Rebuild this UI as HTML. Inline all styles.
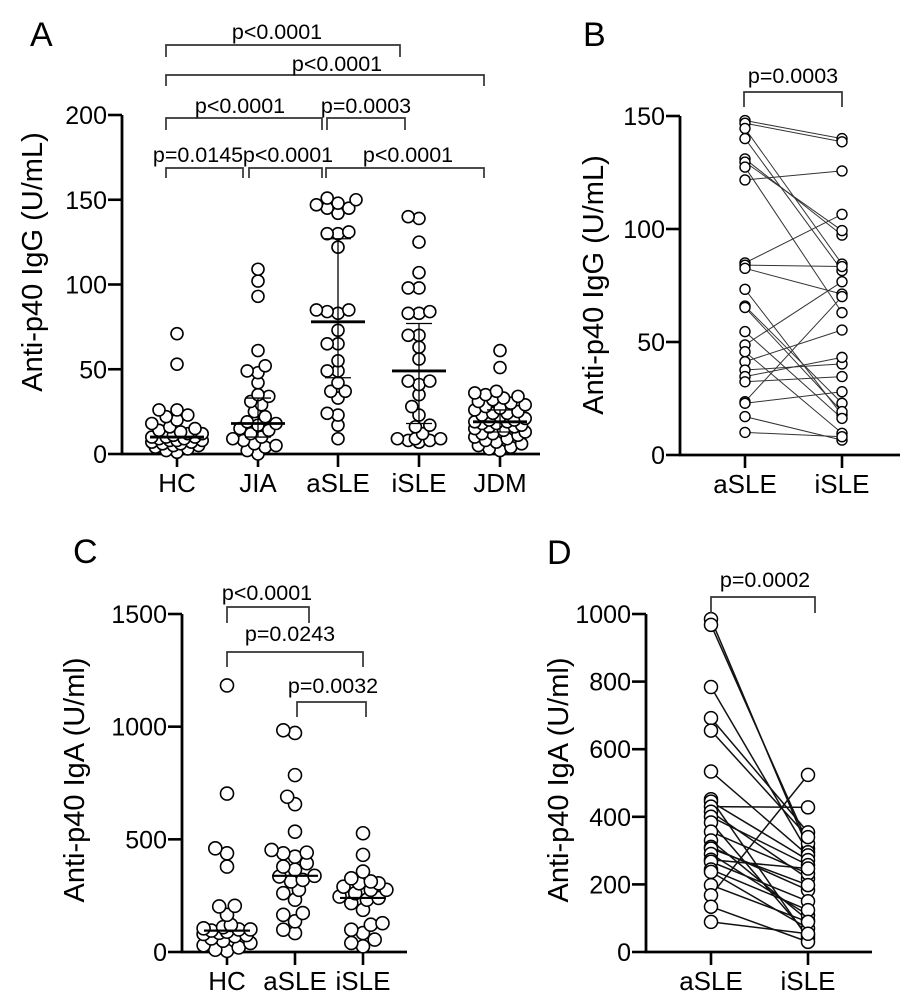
<!DOCTYPE html>
<html><head><meta charset="utf-8"><style>
html,body{margin:0;padding:0;background:#fff}
svg{display:block}
text{font-family:"Liberation Sans",Arial,sans-serif;fill:#000}
</style></head><body>
<svg id="fig" width="908" height="1005" viewBox="0 0 908 1005" xmlns="http://www.w3.org/2000/svg"></svg>
<script>
// ---- Panel A data (Anti-p40 IgG, U/mL) ----
const aCategories = ["HC","JIA","aSLE","iSLE","JDM"];
const aHC = [71,53,26,26,23,22,20,18,16,15,14,13,12,12,11,10,10,10,9,9,8,8,8,7,7,6,6,5,5,4,3,2,1];
const aJIA = [109,102,93,61,52,49,48,42,35,34,31,29,25,22,19,18,17,15,14,12,10,9,8,6,5,4,2,0];
const aASLE = [151,150,148,147,145,145,142,131,130,130,122,85,84,83,85,73,65,65,55,49,49,42,37,37,33,24,23,17,9];
const aISLE = [140,139,125,107,98,98,84,83,83,70,70,63,56,43,43,41,35,28,23,17,16,12,9,9,9,8,8,7];
const aJDM = [61,51,37,36,35,34,33,32,31,30,29,28,27,26,25,24,24,23,22,21,20,20,19,19,18,18,17,16,16,15,14,13,12,12,11,10,9,8,7,6,5,4,3,2];
const aMedian = [10,18,78,49,19];
const aQ1 = [null,10,45,18,13];
const aQ3 = [null,33,127,77,26];
const aTicks = [0,50,100,150,200];
// ---- Panel B data (paired IgG) ----
const bASLE = [148,146.8,144.5,140,131,129.6,127.4,121.7,85,84,82.6,73.3,65.9,65.3,54.6,48.7,45.7,41.3,37.6,34.7,32.4,23.6,22.9,17,10];
const bISLE = [140,138.6,84.5,81.6,97.3,99.3,63,125.7,106.5,83.4,71.2,17.7,22.9,19.2,16.2,76.7,9.6,55.3,40.3,43.2,34.7,70.1,28,6.6,8.1];
const bTicks = [0,50,100,150];
// ---- Panel C data (IgA, U/ml) ----
const cCategories = ["HC","aSLE","iSLE"];
const cHC = [1183,703,460,438,379,205,202,165,120,110,105,100,100,95,90,85,80,75,70,60,50,40,30,20,10,5];
const cASLE = [984,972,785,689,656,534,453,441,438,423,394,379,365,338,335,320,313,276,261,232,173,165,136,99,84];
const cISLE = [527,431,357,327,313,305,305,290,276,276,261,246,240,232,217,187,128,121,99,84,55,40,25];
const cMedian = [95,338,240];
const cTicks = [0,500,1000,1500];
// ---- Panel D data (paired IgA) ----
const dASLE = [985,968,784,692,655,534,452,445,430,415,400,383,356,330,311,306,290,273,267,244,237,198,168,134,89];
const dISLE = [306,321,295,354,340,286,40,272,428,217,257,49,232,94,183,198,109,247,150,124,70,89,524,30,54];
const dTicks = [0,200,400,600,800,1000];

const svg = document.getElementById('fig');
const NS = 'http://www.w3.org/2000/svg';
function mk(tag, attrs, parent){
  const e = document.createElementNS(NS, tag);
  for (const k in attrs) e.setAttribute(k, attrs[k]);
  (parent||svg).appendChild(e); return e;
}
function txt(str, x, y, size, anchor, parent){
  const t = mk('text', {x:x, y:y, 'font-size':size, 'text-anchor':anchor||'middle'}, parent);
  t.textContent = str; return t;
}
function linear(d0,d1,r0,r1){ return v => r0 + (v-d0)/(d1-d0)*(r1-r0); }

function axes(g, x0, xEnd, y0, yTop, ticks, yScale, catX, cats, title, titleX, titleY){
  const ya = mk('line',{x1:x0,y1:y0,x2:x0,y2:yTop,stroke:'#000','stroke-width':2.8},g);
  
  
  const xa = mk('line',{x1:x0-1,y1:y0,x2:xEnd,y2:y0,stroke:'#000','stroke-width':2.8},g);
  
  
  ticks.forEach(v => {
    const y = yScale(v);
    mk('line',{x1:x0-14,y1:y,x2:x0,y2:y,stroke:'#000','stroke-width':2.6},g);
    const t = txt(String(v), x0-15, y+9, 25, 'end', g);
    
    
  });
  cats.forEach((c,i) => {
    const x = catX[i];
    mk('line',{x1:x,y1:y0,x2:x,y2:y0+13,stroke:'#000','stroke-width':2.6},g);
    const t = txt(c, x, y0+38, 26, 'middle', g);
    
    
  });
  const tt = txt(title, 0, 0, 29, 'middle', g);
  tt.setAttribute('transform','translate('+titleX+','+titleY+') rotate(-90)');
  
  
}
function bracket(g, x1, x2, y, tip1, tip2, label, lx, ly){
  mk('path',{d:'M'+x1+','+tip1+'V'+y+'H'+x2+'V'+tip2,fill:'none',stroke:'#333','stroke-width':1.7},g);
  const t = txt(label, lx, ly, 21.5, 'middle', g);
  
  
}
function swarm(g, vals, cx, yScale, r, maxW, name){
  const placed = [];
  const sorted = vals.slice().sort((a,b)=>a-b);
  sorted.forEach(v => {
    const y = yScale(v);
    let best = 0, bestD = -1;
    const step = r*0.6;
    const n = Math.floor(maxW/step);
    for (let k=0;k<=2*n;k++){
      const off = (k%2===0?1:-1)*Math.ceil(k/2)*step;
      let dmin = Infinity;
      placed.forEach(p => { dmin = Math.min(dmin, Math.hypot(p[0]-(cx+off), p[1]-y)); });
      if (dmin >= r*1.6){ best = off; bestD = Infinity; break; }
      if (dmin > bestD){ bestD = dmin; best = off; }
    }
    placed.push([cx+best,y]);
    const c = mk('circle',{cx:cx+best,cy:y,r:r,fill:'#fff',stroke:'#000','stroke-width':1.6},g);
    
    
  });
}
function letter(s,x,y){
  const t = txt(s,x,y,34,'start');
  
  
}

// ===== Panel A =====
const gA = mk('g',{});  
const yA = linear(0,200,454,115);
const xA = [177,258,338,419,500];
axes(gA,122,540,454,115,aTicks,yA,xA,aCategories,'Anti-p40 IgG (U/mL)',42,262);
[aHC,aJIA,aASLE,aISLE,aJDM].forEach((s,i)=>swarm(gA,s,xA[i],yA,6,27,'point-'+aCategories[i].toLowerCase()));
aMedian.forEach((m,i)=>{
  const w = 27;
  const l = mk('line',{x1:xA[i]-w,x2:xA[i]+w,y1:yA(m),y2:yA(m),stroke:'#000','stroke-width':2.8},gA);
   
  if (aQ1[i]!==null){
    mk('line',{x1:xA[i],x2:xA[i],y1:yA(aQ1[i]),y2:yA(aQ3[i]),stroke:'#000','stroke-width':1.3},gA);
    mk('line',{x1:xA[i]-13,x2:xA[i]+13,y1:yA(aQ1[i]),y2:yA(aQ1[i]),stroke:'#000','stroke-width':1.3},gA);
    mk('line',{x1:xA[i]-13,x2:xA[i]+13,y1:yA(aQ3[i]),y2:yA(aQ3[i]),stroke:'#000','stroke-width':1.3},gA);
  }
});
bracket(gA,166,400,45,57,57,'p<0.0001',277,39);
bracket(gA,166,484,75,86,86,'p<0.0001',337,71);
bracket(gA,166,322,118,130,130,'p<0.0001',240,113);
bracket(gA,327,405,118,130,130,'p=0.0003',366,113);
bracket(gA,166,243,168,178,178,'p=0.0145',198,162);
bracket(gA,249,322,168,178,178,'p<0.0001',288,162);
bracket(gA,326,484,168,178,178,'p<0.0001',408,162);
letter('A',30,46);

// ===== Panel B =====
const gB = mk('g',{});  
const yB = linear(0,150,455,116);
const xB = [745,842];
axes(gB,680,900,455,116,bTicks,yB,xB,['aSLE','iSLE'],'Anti-p40 IgG (U/mL)',603,285);
bASLE.forEach((v,i)=>{
  const l = mk('line',{x1:xB[0],y1:yB(v),x2:xB[1],y2:yB(bISLE[i]),stroke:'#333','stroke-width':1},gB);
   
});
bASLE.forEach(v=>{const c=mk('circle',{cx:xB[0],cy:yB(v),r:5,fill:'#fff',stroke:'#000','stroke-width':1.4},gB);
   });
bISLE.forEach(v=>{const c=mk('circle',{cx:xB[1],cy:yB(v),r:5,fill:'#fff',stroke:'#000','stroke-width':1.4},gB);
   });
bracket(gB,744,842,92,107,107,'p=0.0003',793,83);
letter('B',583,46);

// ===== Panel C =====
const gC = mk('g',{});  
const yC = linear(0,1500,952,614);
const xC = [227,295,363];
axes(gC,182,407,952,614,cTicks,yC,xC,cCategories,'Anti-p40 IgA (U/ml)',84,780);
[cHC,cASLE,cISLE].forEach((s,i)=>swarm(gC,s,xC[i],yC,6.5,24,'point-'+cCategories[i].toLowerCase()));
cMedian.forEach((m,i)=>{
  const l = mk('line',{x1:xC[i]-23,x2:xC[i]+23,y1:yC(m),y2:yC(m),stroke:'#000','stroke-width':2.2},gC);
   
});
bracket(gC,227,309,607,623,623,'p<0.0001',267,600);
bracket(gC,227,363,652,667,667,'p=0.0243',290,641);
bracket(gC,297,366,702,717,717,'p=0.0032',333,693);
letter('C',73,563);

// ===== Panel D =====
const gD = mk('g',{});  
const yD = linear(0,1000,952,614);
const xD = [711,808];
axes(gD,646,872,952,614,dTicks,yD,xD,['aSLE','iSLE'],'Anti-p40 IgA (U/ml)',568,780);
dASLE.forEach((v,i)=>{
  const l = mk('line',{x1:xD[0],y1:yD(v),x2:xD[1],y2:yD(dISLE[i]),stroke:'#111','stroke-width':1.5},gD);
   
});
dASLE.forEach(v=>{const c=mk('circle',{cx:xD[0],cy:yD(v),r:6.5,fill:'#fff',stroke:'#000','stroke-width':1.5},gD);
   });
dISLE.forEach(v=>{const c=mk('circle',{cx:xD[1],cy:yD(v),r:6.5,fill:'#fff',stroke:'#000','stroke-width':1.5},gD);
   });
bracket(gD,711,815,597,613,613,'p=0.0002',765,587);
letter('D',547,564);
</script>
</body></html>
